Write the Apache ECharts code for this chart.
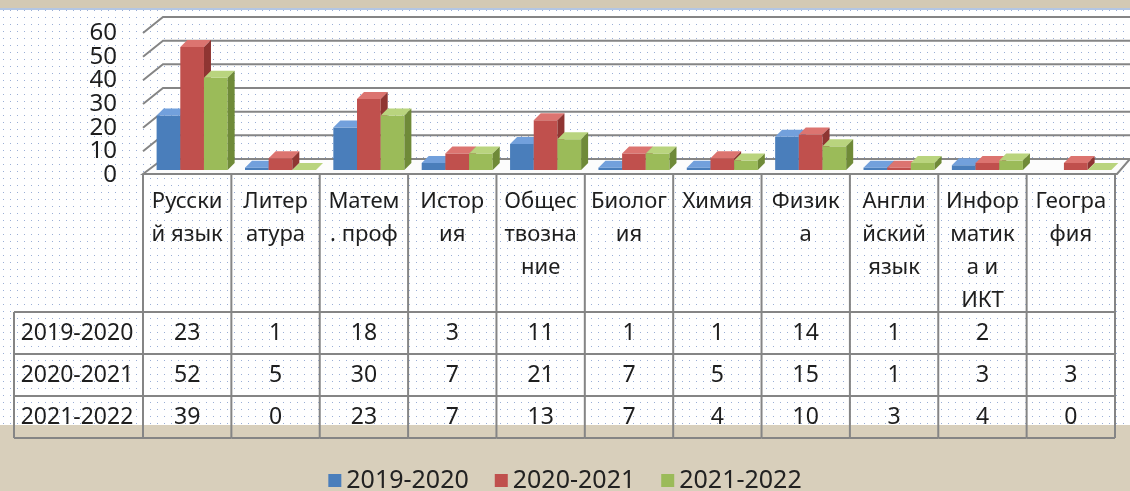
<!DOCTYPE html>
<html>
<head>
<meta charset="utf-8">
<script src="https://cdn.jsdelivr.net/npm/echarts@6/dist/echarts.min.js"></script>
<style>
html, body { margin: 0; padding: 0; }
#myChart { width: 1130px; height: 491px; }
</style>
</head>
<body>
<div id="myChart"></div>
<script>
// подписи предметов — с переносами, как в таблице оригинала
var subjects = ["Русски\nй язык", "Литер\nатура", "Матем\n. проф", "Истор\nия", "Общес\nтвозна\nние",
  "Биолог\nия", "Химия", "Физик\nа", "Англи\nйский\nязык", "Инфор\nматик\nа и\nИКТ", "Геогра\nфия"];
var years = ["2019-2020", "2020-2021", "2021-2022"];
var y2019 = [23, 1, 18, 3, 11, 1, 1, 14, 1, 2, null];
var y2020 = [52, 5, 30, 7, 21, 7, 5, 15, 1, 3, 3];
var y2021 = [39, 0, 23, 7, 13, 7, 4, 10, 3, 4, 0];
var yTicks = [0, 10, 20, 30, 40, 50, 60];

var rows = [y2019, y2020, y2021];
var FONT = '"Noto Sans", sans-serif';
var lineColor = '#858585';
var colors = [
  { front: '#4a7ebb', top: '#72a0dc', side: '#355f93' },
  { front: '#c0504d', top: '#dc7470', side: '#8f3532' },
  { front: '#9bbb59', top: '#b9d47e', side: '#6f8a38' }
];

// точечный фон как в оригинале
var dots = document.createElement('canvas');
dots.width = 7; dots.height = 7;
var ctx = dots.getContext('2d');
ctx.fillStyle = '#ffffff';
ctx.fillRect(0, 0, 7, 7);
ctx.fillStyle = '#9aaed6';
ctx.fillRect(3, 3, 1, 1);

// 3D-столбик: передняя грань, верх и бок
function barRender(s) {
  return function (params, api) {
    var v = api.value(1);
    if (v == null || isNaN(v)) return;
    var i = api.value(0);
    var base = api.coord([i, 0]);
    var top = api.coord([i, v]);
    var band = api.size([1, 0])[0];
    var bw = band * 0.268;
    var x0 = base[0] - band * 0.346 + s * bw;
    var y0 = base[1] - 5, y1 = top[1] - 5;
    var dx = 7, dy = 7;
    var c = colors[s];
    return {
      type: 'group',
      children: [
        { type: 'rect', shape: { x: x0, y: y1, width: bw, height: y0 - y1 }, style: { fill: c.front } },
        { type: 'polygon', shape: { points: [[x0, y1], [x0 + dx, y1 - dy], [x0 + bw + dx, y1 - dy], [x0 + bw, y1]] }, style: { fill: c.top } },
        { type: 'polygon', shape: { points: [[x0 + bw, y1], [x0 + bw + dx, y1 - dy], [x0 + bw + dx, y0 - dy], [x0 + bw, y0]] }, style: { fill: c.side } }
      ]
    };
  };
}

// стены, пол и подписи оси значений
function wallRender(params, api) {
  var cs = params.coordSys;
  var v = api.value(1);
  var y = api.coord([0, v])[1];
  var xl = cs.x, xr = cs.x + cs.width;
  var label = {
    type: 'text',
    style: { text: String(v), x: xl - 26, y: y, align: 'right', verticalAlign: 'middle', font: '24px ' + FONT, fill: '#1e1e1e' }
  };
  var wall;
  if (v === 0) {
    wall = {
      type: 'polygon',
      shape: { points: [[xl, y - 1], [xl + 20, y - 16], [xr + 15, y - 16], [xr + 2, y - 1]] },
      style: { fill: '#fcfcfc', stroke: lineColor, lineWidth: 2 }
    };
  } else {
    wall = {
      type: 'polyline',
      shape: { points: [[xl, y], [xl + 20, y - 16], [xr + 25, y - 16]] },
      style: { fill: null, stroke: lineColor, lineWidth: 2 }
    };
  }
  return { type: 'group', children: [wall, label] };
}

// таблица данных под диаграммой
function tableRender(params, api) {
  var i = api.value(0);
  var cs = params.coordSys;
  var cx = api.coord([i, 0])[0];
  var band = api.size([1, 0])[0];
  var xl = cx - band / 2, xr = cx + band / 2;
  var top = cs.y + cs.height - 1;
  var hdr = 138, rowH = 42;
  var bottom = top + hdr + 3 * rowH;
  var children = [];
  function line(x1, y1, x2, y2) {
    children.push({ type: 'line', shape: { x1: x1, y1: y1, x2: x2, y2: y2 }, style: { stroke: lineColor, lineWidth: 2 } });
  }
  function text(t, x, y, va, size) {
    children.push({ type: 'text', style: { text: t, x: x, y: y, align: 'center', verticalAlign: va, font: size + 'px ' + FONT, lineHeight: 33, fill: '#1e1e1e' } });
  }
  line(xl, top, xl, bottom);
  if (i === subjects.length - 1) line(xr, top, xr, bottom);
  for (var r = 0; r <= 3; r++) line(xl, top + hdr + r * rowH, xr, top + hdr + r * rowH);
  text(subjects[i], cx, top + 11, 'top', 22);
  rows.forEach(function (arr, r) {
    if (arr[i] != null) text(String(arr[i]), cx, top + hdr + r * rowH + rowH / 2, 'middle', 23);
  });
  if (i === 0) {
    var hl = xl - 129;
    line(hl, top + hdr, hl, bottom);
    for (var k = 0; k <= 3; k++) line(hl, top + hdr + k * rowH, xl, top + hdr + k * rowH);
    years.forEach(function (yname, r) {
      text(yname, xl - 66, top + hdr + r * rowH + rowH / 2, 'middle', 23);
    });
  }
  return { type: 'group', children: children };
}

var myChart = echarts.init(document.getElementById('myChart'));
myChart.setOption({
  animation: false,
  backgroundColor: { image: dots, repeat: 'repeat' },
  graphic: [
    { type: 'rect', z: -10, shape: { x: 0, y: 0, width: 1130, height: 8 }, style: { fill: '#d3c9b4' } },
    { type: 'rect', z: -10, shape: { x: 0, y: 8, width: 1130, height: 2 }, style: { fill: '#b3c6e4' } },
    { type: 'rect', z: -10, shape: { x: 0, y: 425, width: 1130, height: 66 }, style: { fill: '#d8cfbb' } }
  ],
  legend: {
    data: years,
    left: 'center',
    top: 463,
    icon: 'rect',
    itemWidth: 13,
    itemHeight: 13,
    itemGap: 26,
    textStyle: { fontSize: 25, color: '#222', fontFamily: FONT }
  },
  grid: { left: 143, right: 15, top: 33, bottom: 316 },
  xAxis: {
    type: 'category',
    data: subjects,
    boundaryGap: true,
    axisLine: { show: false },
    axisTick: { show: false },
    axisLabel: { show: false },
    splitLine: { show: false }
  },
  yAxis: {
    type: 'value',
    min: 0,
    max: 60,
    interval: 10,
    axisLine: { show: false },
    axisTick: { show: false },
    splitLine: { show: false },
    axisLabel: { show: false }
  },
  series: [
    { type: 'custom', name: 'walls', clip: false, z: 1, renderItem: wallRender, data: yTicks.map(function (v) { return [0, v]; }) },
    { type: 'custom', name: years[0], clip: false, itemStyle: { color: colors[0].front }, renderItem: barRender(0), data: y2019.map(function (v, i) { return [i, v]; }) },
    { type: 'custom', name: years[1], clip: false, itemStyle: { color: colors[1].front }, renderItem: barRender(1), data: y2020.map(function (v, i) { return [i, v]; }) },
    { type: 'custom', name: years[2], clip: false, itemStyle: { color: colors[2].front }, renderItem: barRender(2), data: y2021.map(function (v, i) { return [i, v]; }) },
    { type: 'custom', name: 'table', clip: false, renderItem: tableRender, data: subjects.map(function (s, i) { return [i, 0]; }) }
  ]
});
window.addEventListener('resize', function () {
  myChart.resize();
});
</script>
</body>
</html>
